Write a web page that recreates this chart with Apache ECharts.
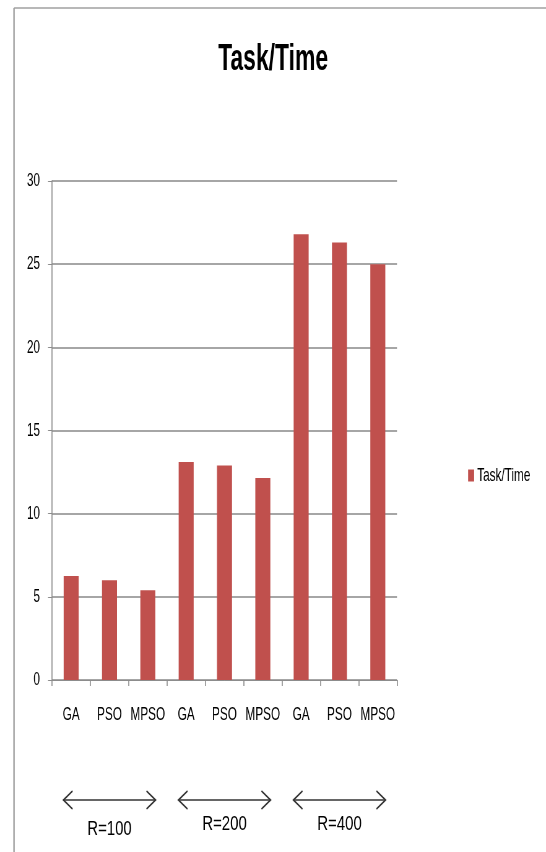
<!DOCTYPE html>
<html>
<head>
<meta charset="utf-8">
<script src="https://cdn.jsdelivr.net/npm/echarts@6/dist/echarts.min.js"></script>
<style>
  html, body { margin: 0; padding: 0; background: #fff; overflow: hidden; }
  /* The chart is laid out on a wider canvas and squeezed horizontally,
     giving the tall, condensed lettering of the printed figure. */
  #wrap { width: 546px; height: 852px; overflow: hidden; }
  #chart { width: 882px; height: 852px; transform: scaleX(0.619); transform-origin: 0 0; }
</style>
</head>
<body>
<div id="wrap"><div id="chart"></div></div>
<script>
// Algorithms compared for each resource count
const categories = ['GA', 'PSO', 'MPSO', 'GA', 'PSO', 'MPSO', 'GA', 'PSO', 'MPSO'];
const taskTime = [6.25, 6.0, 5.4, 13.1, 12.9, 12.15, 26.8, 26.3, 25.0];
const groupLabels = ['R=100', 'R=200', 'R=400'];
const yTicks = { min: 0, max: 30, interval: 5 };

const SX = 0.619;              // horizontal squeeze applied by CSS
const px = function (x) { return x / SX; };   // on-screen x -> canvas x
const FONT = "'Liberation Sans', Arial, sans-serif";

const chart = echarts.init(document.getElementById('chart'), null, { renderer: 'canvas', width: 882, height: 852 });

chart.setOption({
  animation: false,
  backgroundColor: '#fff',
  title: {
    text: 'Task/Time',
    left: px(270),
    top: 36,
    textAlign: 'center',
    textStyle: { fontFamily: FONT, fontSize: 37, fontWeight: 'bold', color: '#000' }
  },
  legend: {
    data: ['Task/Time'],
    left: px(465),
    top: 461,
    itemWidth: px(6),
    itemHeight: 12,
    itemGap: 4,
    icon: 'rect',
    textStyle: { fontFamily: FONT, fontSize: 19, color: '#000' }
  },
  grid: { left: px(52), right: px(149), top: 181, bottom: 172 },
  xAxis: {
    type: 'category',
    data: categories,
    axisLine: { lineStyle: { color: '#8c8c8c', width: 1 } },
    axisTick: { show: true, interval: 0, alignWithLabel: false, length: 6, lineStyle: { color: '#8c8c8c', width: 1.6 } },
    axisLabel: { interval: 0, fontFamily: FONT, fontSize: 19, color: '#000', margin: 25 }
  },
  yAxis: {
    type: 'value',
    min: yTicks.min,
    max: yTicks.max,
    interval: yTicks.interval,
    axisLine: { show: true, lineStyle: { color: '#8c8c8c', width: 1.6 } },
    axisTick: { show: true, length: px(4), lineStyle: { color: '#8c8c8c' } },
    axisLabel: { fontFamily: FONT, fontSize: 19, color: '#000', margin: px(12) },
    splitLine: { lineStyle: { color: '#a6a6a6', width: 2 } }
  },
  series: [{
    name: 'Task/Time',
    type: 'bar',
    data: taskTime,
    barWidth: px(15),
    itemStyle: { color: '#c0504d' }
  }]
});

// Sheet frame and the double arrows naming each resource group
function drawExtras() {
  const stroke = '#333';
  const elements = [
    { type: 'line', shape: { x1: px(14), y1: 8, x2: 882, y2: 8 }, style: { stroke: '#a0a0a0', lineWidth: 1.5 }, silent: true },
    { type: 'line', shape: { x1: px(14), y1: 8, x2: px(14), y2: 852 }, style: { stroke: '#a0a0a0', lineWidth: 2.4 }, silent: true }
  ];
  const arrowY = 800;
  const half = px(46);
  const headW = px(9), headH = 9;
  groupLabels.forEach(function (label, g) {
    const first = chart.convertToPixel({ xAxisIndex: 0 }, g * 3);
    const last = chart.convertToPixel({ xAxisIndex: 0 }, g * 3 + 2);
    const cx = (first + last) / 2;
    const x1 = cx - half, x2 = cx + half;
    elements.push({
      type: 'line',
      shape: { x1: x1, y1: arrowY, x2: x2, y2: arrowY },
      style: { stroke: stroke, lineWidth: 1.6 }, silent: true
    });
    elements.push({
      type: 'polyline',
      shape: { points: [[x1 + headW, arrowY - headH], [x1, arrowY], [x1 + headW, arrowY + headH]] },
      style: { stroke: stroke, lineWidth: 2, fill: null }, silent: true
    });
    elements.push({
      type: 'polyline',
      shape: { points: [[x2 - headW, arrowY - headH], [x2, arrowY], [x2 - headW, arrowY + headH]] },
      style: { stroke: stroke, lineWidth: 2, fill: null }, silent: true
    });
    elements.push({
      type: 'text',
      x: cx, y: g === 0 ? 829 : 824,
      scaleX: 1.15,
      style: { text: label, font: '21px ' + FONT, fill: '#000', textAlign: 'center', textVerticalAlign: 'middle' },
      silent: true
    });
  });
  chart.setOption({ graphic: { elements: elements } });
}
drawExtras();
</script>
</body>
</html>
